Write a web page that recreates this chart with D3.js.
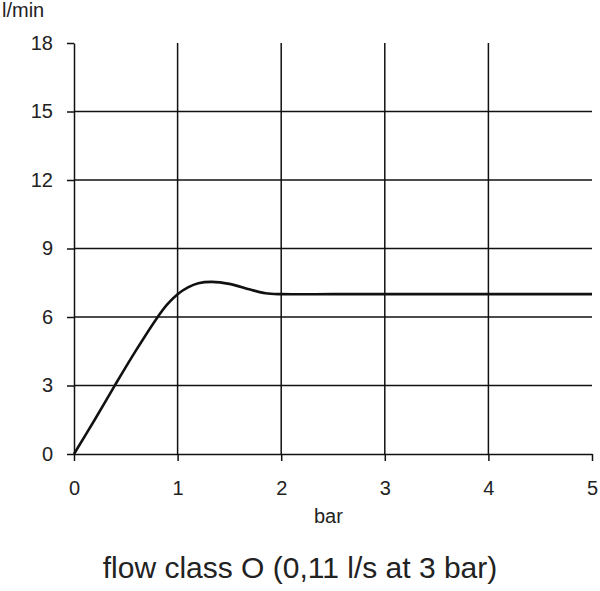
<!DOCTYPE html>
<html><head><meta charset="utf-8">
<script src="https://cdn.jsdelivr.net/npm/d3@7"></script>
<style>body{margin:0;background:#fff}svg{display:block}text{font-family:"Liberation Sans",Arial,sans-serif;fill:#222}</style>
</head><body><svg id="c" width="600" height="591"></svg>
<script>
const pressure = [0, 0.2, 0.4, 0.6, 0.8, 0.9, 1.0, 1.1, 1.2, 1.33, 1.5, 1.7, 1.85, 2.0, 2.5, 3, 3.5, 4, 4.5, 5];
const flow =     [0, 1.5, 3.05, 4.55, 5.95, 6.55, 7.0, 7.3, 7.48, 7.54, 7.45, 7.2, 7.04, 7.0, 7.0, 7.0, 7.0, 7.0, 7.0, 7.0];
const xTicks = [0, 1, 2, 3, 4, 5];
const yTicks = [0, 3, 6, 9, 12, 15, 18];
const yUnit = "l/min", xUnit = "bar", title = "flow class O (0,11 l/s at 3 bar)";

const svg = d3.select("#c");
const x = d3.scaleLinear().domain([0, 5]).range([74, 592]);
const y = d3.scaleLinear().domain([0, 18]).range([454, 43]);

// horizontal grid lines
svg.append("g").selectAll("line").data(yTicks.filter(d => d > 0 && d < 18)).join("line")
  .attr("x1", x(0)).attr("x2", x(5)).attr("y1", d => y(d)).attr("y2", d => y(d))
  .attr("stroke", "#111").attr("stroke-width", 1.5);
// vertical grid lines
svg.append("g").selectAll("line").data(xTicks.filter(d => d > 0 && d < 5)).join("line")
  .attr("x1", d => x(d)).attr("x2", d => x(d)).attr("y1", y(0)).attr("y2", y(18))
  .attr("stroke", "#111").attr("stroke-width", 1.5);

const fmt = d3.format("d");
const yAxis = d3.axisLeft(y).tickValues(yTicks).tickFormat(fmt).tickSize(7).tickPadding(14).tickSizeOuter(0);
const gy = svg.append("g").attr("transform", `translate(${x(0)},0)`).call(yAxis);
const xAxis = d3.axisBottom(x).tickValues(xTicks).tickFormat(fmt).tickSize(7).tickPadding(20).tickSizeOuter(0);
const gx = svg.append("g").attr("transform", `translate(0,${y(0)})`).call(xAxis);
[gx, gy].forEach(g => {
  g.select(".domain").attr("stroke", "#111").attr("stroke-width", 1.5);
  g.selectAll(".tick line").attr("stroke", "#111").attr("stroke-width", 1.5);
  g.selectAll(".tick text").attr("font-size", 20).attr("font-family", "Liberation Sans, Arial, sans-serif").attr("fill", "#222");
});

const line = d3.line().x((d, i) => x(pressure[i])).y(d => y(d)).curve(d3.curveCatmullRom.alpha(0.5));
svg.append("path").attr("d", line(flow)).attr("fill", "none").attr("stroke", "#111").attr("stroke-width", 2.6);

svg.append("text").attr("x", 2).attr("y", 17).attr("font-size", 20).text(yUnit);
svg.append("text").attr("x", 314).attr("y", 523).attr("font-size", 20).text(xUnit);
svg.append("text").attr("x", 300).attr("y", 578).attr("text-anchor", "middle").attr("font-size", 30).text(title);
</script></body></html>
